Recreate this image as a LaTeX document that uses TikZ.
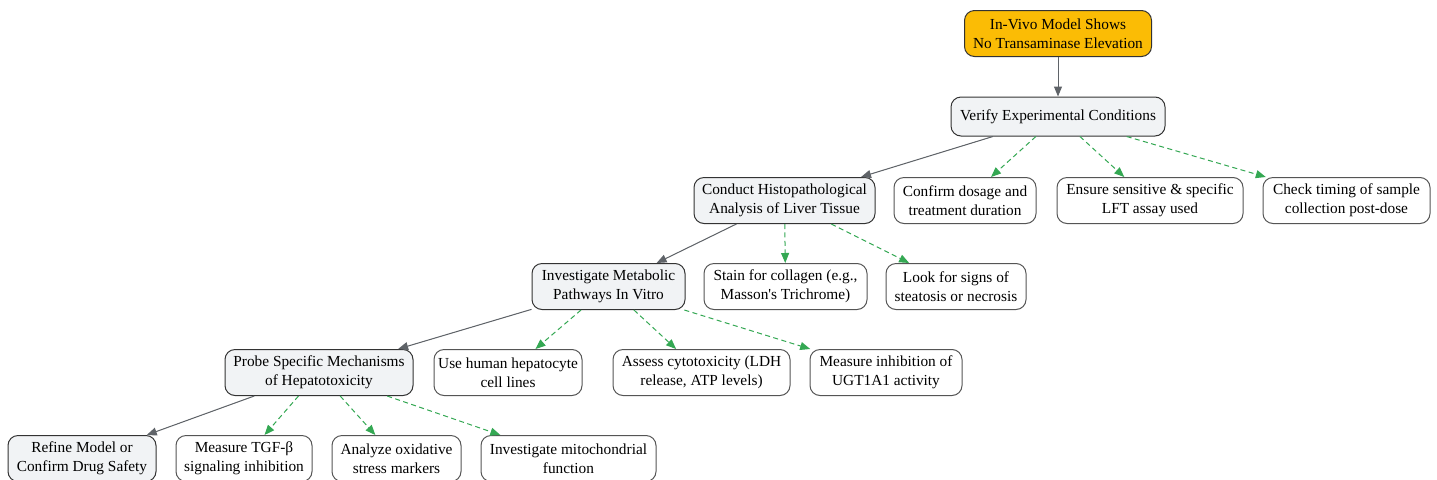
\documentclass[tikz,border=0pt]{standalone}
\usepackage{fontspec}
\setmainfont{Liberation Serif}[Ligatures=TeXOff]
\usetikzlibrary{arrows.meta}
\definecolor{orangefill}{HTML}{FBBC05}
\definecolor{mainfill}{HTML}{F1F3F5}
\definecolor{bordercol}{HTML}{333333}
\definecolor{sideborder}{HTML}{555555}
\definecolor{edgegray}{HTML}{5F6368}
\definecolor{edgegreen}{HTML}{34A853}
\tikzset{
  box/.style={rectangle, rounded corners=7.5pt, align=center, inner xsep=3pt, inner ysep=2pt,
    font=\fontsize{11.5}{14.25}\selectfont, line width=0.75pt, minimum height=34.5pt},
  mainbox/.style={box, draw=bordercol, fill=mainfill},
  topbox/.style={box, draw=bordercol, fill=orangefill},
  sidebox/.style={box, draw=sideborder, fill=white},
  mainedge/.style={draw=edgegray, line width=0.75pt, -{Triangle[length=7.5pt,width=6pt]}, fill=edgegray},
  sideedge/.style={draw=edgegreen, line width=0.75pt, dash pattern=on 3.75pt off 2.6pt,
    -{Triangle[length=7.5pt,width=6pt,fill=edgegreen]}},
}
\begin{document}
\begin{tikzpicture}[x=0.75pt,y=-0.75pt]
\useasboundingbox[fill=white] (0,0) rectangle (1437,479);
\node[topbox, minimum width=140.25pt] (top) at (1058,33.5) {In-Vivo Model Shows\\No Transaminase Elevation};
\node[mainbox, minimum width=160.5pt, minimum height=29.25pt] (verify) at (1058,116.5) {Verify Experimental Conditions};
\node[mainbox, minimum width=135.75pt] (histo) at (784.5,200.5) {Conduct Histopathological\\Analysis of Liver Tissue};
\node[sidebox, minimum width=106.5pt] (dose) at (965,200.5) {Confirm dosage and\\treatment duration};
\node[sidebox, minimum width=139.5pt] (lft) at (1150,200.5) {Ensure sensitive \& specific\\LFT assay used};
\node[sidebox, minimum width=125.25pt] (timing) at (1346.5,200.5) {Check timing of sample\\collection post-dose};
\node[mainbox, minimum width=114.75pt] (metab) at (608.5,286.5) {Investigate Metabolic\\Pathways In Vitro};
\node[sidebox, minimum width=122.25pt] (stain) at (785.5,286.5) {Stain for collagen (e.g.,\\Masson's Trichrome)};
\node[sidebox, minimum width=105pt] (look) at (956,286.5) {Look for signs of\\steatosis or necrosis};
\node[mainbox, minimum width=141pt] (probe) at (319,372.5) {Probe Specific Mechanisms\\of Hepatotoxicity};
\node[sidebox, minimum width=111pt] (hep) at (508,372.5) {Use human hepatocyte\\cell lines};
\node[sidebox, minimum width=132.75pt] (cyto) at (701.5,372.5) {Assess cytotoxicity (LDH\\release, ATP levels)};
\node[sidebox, minimum width=114pt] (ugt) at (886,372.5) {Measure inhibition of\\UGT1A1 activity};
\node[mainbox, minimum width=111pt] (refine) at (82,458.5) {Refine Model or\\Confirm Drug Safety};
\node[sidebox, minimum width=102pt] (tgf) at (244,458.5) {Measure TGF-β\\signaling inhibition};
\node[sidebox, minimum width=96.75pt] (ox) at (396.5,458.5) {Analyze oxidative\\stress markers};
\node[sidebox, minimum width=131.25pt] (mito) at (568.5,458.5) {Investigate mitochondrial\\function};
\draw[mainedge] (top) -- (verify);
\draw[mainedge] (verify) -- (histo);
\draw[sideedge] (verify) -- (dose);
\draw[sideedge] (verify) -- (lft);
\draw[sideedge] (verify) -- (timing);
\draw[mainedge] (histo) -- (metab);
\draw[sideedge] (histo) -- (stain);
\draw[sideedge] (histo) -- (look);
\draw[mainedge] (metab) -- (probe);
\draw[sideedge] (metab) -- (hep);
\draw[sideedge] (metab) -- (cyto);
\draw[sideedge] (metab) -- (ugt);
\draw[mainedge] (probe) -- (refine);
\draw[sideedge] (probe) -- (tgf);
\draw[sideedge] (probe) -- (ox);
\draw[sideedge] (probe) -- (mito);
\end{tikzpicture}
\end{document}
